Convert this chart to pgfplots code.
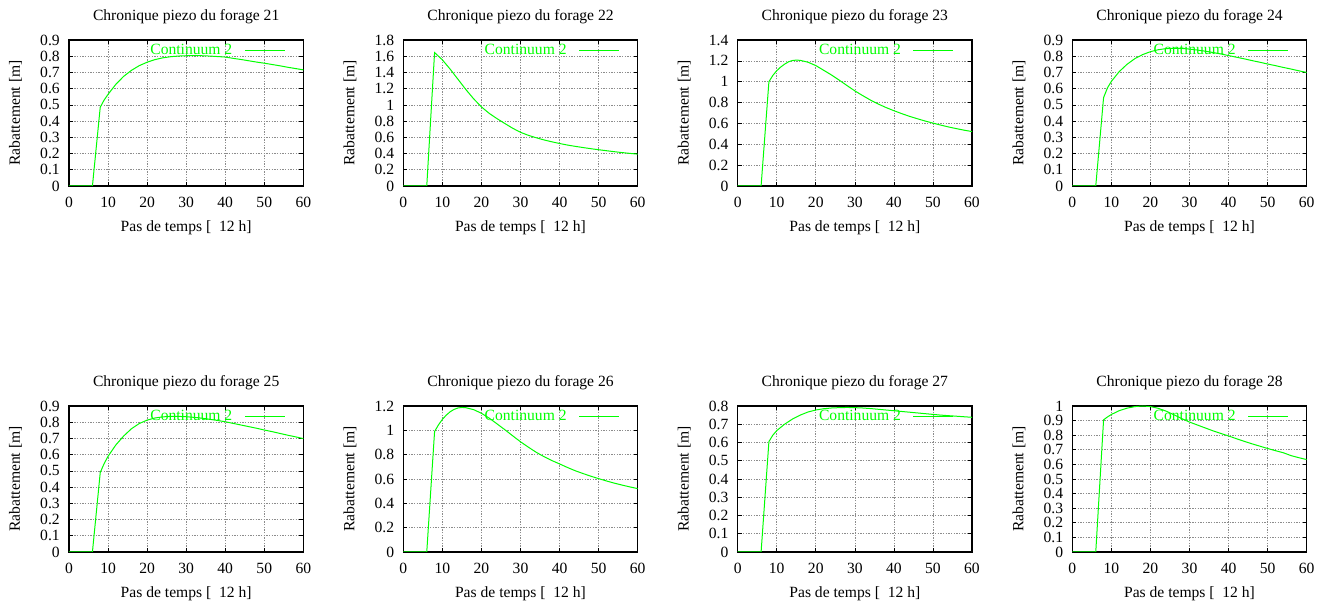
\documentclass[border=0pt]{standalone}
\usepackage{fontspec}
\setmainfont{Liberation Serif}
\usepackage{pgfplots}
\usepackage{pgfplotstable}
\pgfplotsset{compat=1.18}
\definecolor{gpgreen}{RGB}{0,255,0}

\pgfplotstableread{
t v
0 0
6 0
8 0.486
9 0.53
10 0.565
12 0.627
14 0.676
16 0.713
18 0.742
20 0.763
22 0.779
24 0.790
26 0.797
28 0.801
30 0.803
32 0.804
34 0.803
36 0.801
38 0.798
40 0.795
42 0.787
44 0.780
46 0.772
48 0.764
50 0.757
52 0.749
54 0.741
56 0.732
58 0.724
60 0.716
}\fa

\pgfplotstableread{
t v
0 0
6 0
8 1.645
10 1.555
12 1.44
14 1.315
16 1.19
18 1.075
20 0.975
22 0.895
24 0.83
26 0.77
28 0.712
30 0.662
32 0.625
34 0.595
36 0.568
38 0.545
40 0.524
42 0.505
44 0.489
46 0.474
48 0.46
50 0.447
52 0.435
54 0.423
56 0.412
58 0.402
60 0.393
}\fb

\pgfplotstableread{
t v
0 0
6 0
8 1.0
9 1.06
10 1.105
11 1.14
12 1.168
13 1.19
14 1.203
15 1.207
16 1.205
18 1.187
20 1.155
22 1.11
24 1.065
26 1.015
28 0.963
30 0.912
32 0.867
34 0.824
36 0.786
38 0.752
40 0.722
42 0.694
44 0.668
46 0.645
48 0.623
50 0.603
52 0.584
54 0.566
56 0.550
58 0.535
60 0.522
}\fc

\pgfplotstableread{
t v
0 0
6 0
8 0.545
9 0.605
10 0.645
12 0.705
14 0.75
16 0.785
18 0.81
20 0.828
22 0.84
24 0.847
26 0.849
28 0.848
30 0.844
32 0.838
34 0.831
36 0.823
38 0.814
40 0.804
42 0.794
44 0.784
46 0.773
48 0.763
50 0.752
52 0.742
54 0.731
56 0.721
58 0.71
60 0.70
}\fd

\pgfplotstableread{
t v
0 0
6 0
8 0.49
9 0.545
10 0.59
12 0.66
14 0.715
16 0.76
18 0.792
20 0.813
22 0.826
24 0.833
26 0.836
28 0.836
30 0.834
32 0.83
34 0.825
36 0.818
38 0.811
40 0.803
42 0.793
44 0.783
46 0.773
48 0.763
50 0.752
52 0.742
54 0.731
56 0.72
58 0.71
60 0.699
}\fe

\pgfplotstableread{
t v
0 0
6 0
8 0.99
9 1.045
10 1.09
11 1.125
12 1.153
13 1.172
14 1.184
15 1.188
16 1.186
18 1.17
20 1.14
22 1.1
24 1.053
26 1.005
28 0.955
30 0.906
32 0.862
34 0.82
36 0.784
38 0.752
40 0.724
42 0.695
44 0.668
46 0.645
48 0.623
50 0.603
52 0.584
54 0.566
56 0.55
58 0.535
60 0.521
}\ff

\pgfplotstableread{
t v
0 0
6 0
8 0.605
9 0.64
10 0.665
12 0.70
14 0.728
16 0.75
18 0.767
20 0.778
22 0.785
24 0.789
26 0.791
28 0.792
30 0.791
32 0.789
34 0.786
36 0.782
38 0.778
40 0.774
42 0.77
44 0.766
46 0.762
48 0.758
50 0.754
52 0.75
54 0.747
56 0.744
58 0.741
60 0.738
}\fg

\pgfplotstableread{
t v
0 0
6 0
8 0.905
9 0.925
10 0.942
12 0.968
14 0.985
16 0.996
18 1.0
20 0.996
22 0.984
24 0.965
26 0.94
28 0.914
30 0.89
32 0.87
34 0.85
36 0.83
38 0.812
40 0.795
42 0.776
44 0.758
46 0.741
48 0.725
50 0.709
52 0.694
54 0.68
56 0.66
58 0.646
60 0.633
}\fh

\pgfplotsset{
  every axis title shift=0pt,
  gp/.style={
    scale only axis,
    width=175.75pt, height=109.5pt,
    anchor=south west,
    xmin=0, xmax=60, xtick={0,10,...,60},
    ymin=0,
    grid=major,
    grid style={dash pattern=on 1pt off 1pt, black!45, line width=0.5pt},
    axis line style={line width=0.9pt},
    tick align=inside, tick pos=both,
    major tick length=3pt,
    tick style={black, line width=0.5pt},
    /pgf/number format/assume math mode=true,
    xticklabel style={anchor=north, inner sep=0pt, yshift=-8.25pt},
    yticklabel style={anchor=east, inner sep=0pt, xshift=-6.75pt},
    xlabel={Pas de temps [~~12~h]},
    ylabel={Rabattement [m]},
    xlabel style={at={(axis description cs:0.5,-0.313)}, anchor=base, inner sep=0pt},
    ylabel style={at={(axis description cs:-0.2094,0.5)}, anchor=base, inner sep=0pt},
    title style={at={(axis description cs:0.5,1.132)}, anchor=base, inner sep=0pt},
    legend plot pos=right,
    legend image code/.code={\draw[##1] (0pt,0pt) -- (30pt,0pt);},
    legend style={draw=none, fill=none, inner sep=0pt, outer sep=0pt,
      column sep=9pt, nodes={inner sep=0pt},
      at={(axis description cs:0.923,0.925)}, anchor=east},
  },
  gpline/.style={gpgreen, line width=0.75pt, mark=none},
}

\begin{document}
\fontsize{11.7}{14}\selectfont
\begin{tikzpicture}
\path (0pt,0pt) (996.75pt,451.5pt);

\begin{axis}[gp, at={(51.75pt,312pt)}, ymax=0.9, ytick={0,0.1,...,0.9},
  title={Chronique piezo du forage 21}]
\addplot[gpline] table[x=t,y=v] {\fa};
\addlegendentry{\textcolor{gpgreen}{Continuum 2}}
\end{axis}

\begin{axis}[gp, at={(302.5pt,312pt)}, ymax=1.8, ytick={0,0.2,...,1.8},
  title={Chronique piezo du forage 22}]
\addplot[gpline] table[x=t,y=v] {\fb};
\addlegendentry{\textcolor{gpgreen}{Continuum 2}}
\end{axis}

\begin{axis}[gp, at={(553.25pt,312pt)}, ymax=1.4, ytick={0,0.2,...,1.4},
  title={Chronique piezo du forage 23}]
\addplot[gpline] table[x=t,y=v] {\fc};
\addlegendentry{\textcolor{gpgreen}{Continuum 2}}
\end{axis}

\begin{axis}[gp, at={(804.25pt,312pt)}, ymax=0.9, ytick={0,0.1,...,0.9},
  title={Chronique piezo du forage 24}]
\addplot[gpline] table[x=t,y=v] {\fd};
\addlegendentry{\textcolor{gpgreen}{Continuum 2}}
\end{axis}

\begin{axis}[gp, at={(51.75pt,37.5pt)}, ymax=0.9, ytick={0,0.1,...,0.9},
  title={Chronique piezo du forage 25}]
\addplot[gpline] table[x=t,y=v] {\fe};
\addlegendentry{\textcolor{gpgreen}{Continuum 2}}
\end{axis}

\begin{axis}[gp, at={(302.5pt,37.5pt)}, ymax=1.2, ytick={0,0.2,...,1.2},
  title={Chronique piezo du forage 26}]
\addplot[gpline] table[x=t,y=v] {\ff};
\addlegendentry{\textcolor{gpgreen}{Continuum 2}}
\end{axis}

\begin{axis}[gp, at={(553.25pt,37.5pt)}, ymax=0.8, ytick={0,0.1,...,0.8},
  title={Chronique piezo du forage 27}]
\addplot[gpline] table[x=t,y=v] {\fg};
\addlegendentry{\textcolor{gpgreen}{Continuum 2}}
\end{axis}

\begin{axis}[gp, at={(804.25pt,37.5pt)}, ymax=1, ytick={0,0.1,...,1},
  title={Chronique piezo du forage 28}]
\addplot[gpline] table[x=t,y=v] {\fh};
\addlegendentry{\textcolor{gpgreen}{Continuum 2}}
\end{axis}
\end{tikzpicture}
\end{document}
